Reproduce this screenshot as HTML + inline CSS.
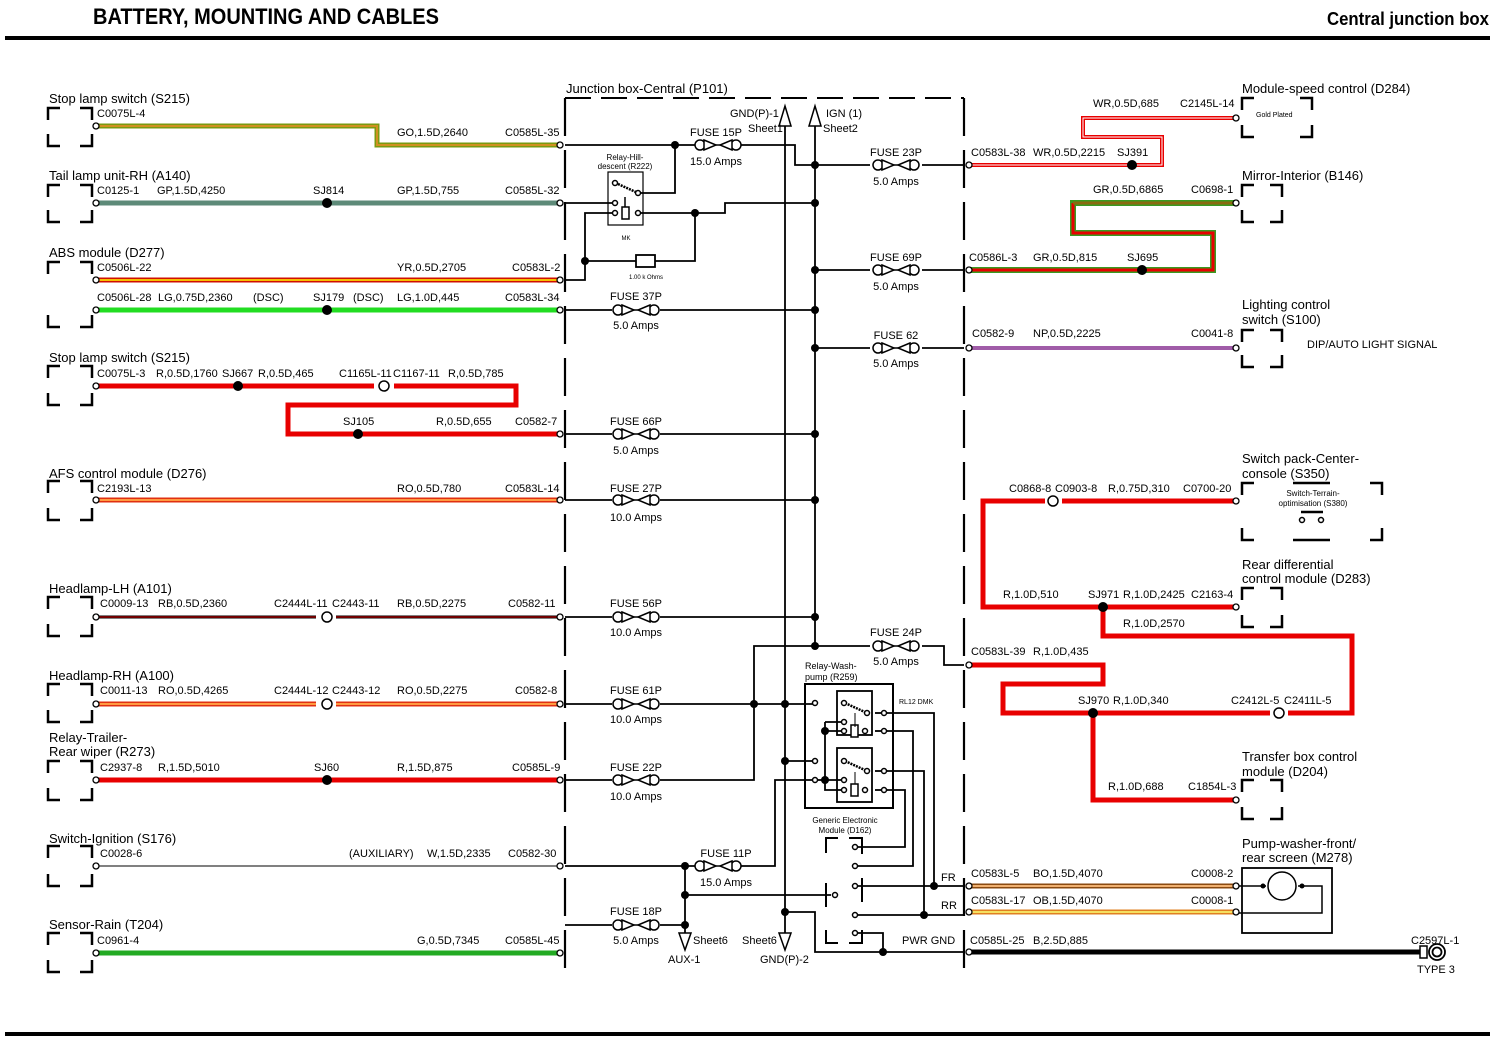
<!DOCTYPE html>
<html><head><meta charset="utf-8"><style>
html,body{margin:0;padding:0;background:#fff}
svg{display:block}
text{font-family:"Liberation Sans",sans-serif;font-size:11px;fill:#000}
.n{font-size:13px}
.s{font-size:7px}
</style></head><body>
<svg width="1498" height="1043" viewBox="0 0 1498 1043" xmlns="http://www.w3.org/2000/svg">
<defs>
<symbol id="fuse" viewBox="-26 -7 52 14" overflow="visible">
<line x1="-2" y1="0" x2="2" y2="0" stroke="#000" stroke-width="1.5"/>
<circle cx="-18" cy="0" r="5" fill="#fff" stroke="#000" stroke-width="1.5"/>
<circle cx="18" cy="0" r="5" fill="#fff" stroke="#000" stroke-width="1.5"/>
<polygon points="-14,-5 -2,0 -14,5" fill="#fff" stroke="#000" stroke-width="1.5"/>
<polygon points="14,-5 2,0 14,5" fill="#fff" stroke="#000" stroke-width="1.5"/>
</symbol>
</defs>

<!-- header -->
<text x="93" y="24" style="font-size:22px;font-weight:bold" textLength="346" lengthAdjust="spacingAndGlyphs">BATTERY, MOUNTING AND CABLES</text>
<text x="1327" y="25" style="font-size:18px;font-weight:bold" textLength="162" lengthAdjust="spacingAndGlyphs">Central junction box</text>
<rect x="5" y="36" width="1485" height="4" fill="#000"/>
<rect x="5" y="1032" width="1485" height="4" fill="#000"/>

<!-- connector brackets -->
<g fill="none" stroke="#000" stroke-width="2.5">
<path d="M48,120V108H60M80,108H92V120M48,134V146H60M80,146H92V134"/>
<path d="M48,197V185H60M80,185H92V197M48,210V222H60M80,222H92V210"/>
<path d="M48,274V262H60M80,262H92V274M48,315V327H60M80,327H92V315"/>
<path d="M48,378V366H60M80,366H92V378M48,393V405H60M80,405H92V393"/>
<path d="M48,493V481H60M80,481H92V493M48,508V520H60M80,520H92V508"/>
<path d="M48,609V597H60M80,597H92V609M48,624V636H60M80,636H92V624"/>
<path d="M48,696V684H60M80,684H92V696M48,710V722H60M80,722H92V710"/>
<path d="M48,773V761H60M80,761H92V773M48,788V800H60M80,800H92V788"/>
<path d="M48,858V846H60M80,846H92V858M48,874V886H60M80,886H92V874"/>
<path d="M48,945V933H60M80,933H92V945M48,960V972H60M80,972H92V960"/>
<!-- right -->
<path d="M1242,110V98H1254M1300,98H1312V110M1242,125V137H1254M1300,137H1312V125"/>
<path d="M1242,197V185H1254M1270,185H1282V197M1242,210V222H1254M1270,222H1282V210"/>
<path d="M1242,342V330H1254M1270,330H1282V342M1242,355V367H1254M1270,367H1282V355"/>
<path d="M1242,495V483H1254M1370,483H1382V495M1242,528V540H1254M1370,540H1382V528M1293,483H1330M1293,540H1330"/>
<path d="M1242,600V588H1254M1270,588H1282V600M1242,615V627H1254M1270,627H1282V615"/>
<path d="M1242,792V780H1254M1270,780H1282V792M1242,807V819H1254M1270,819H1282V807"/>
</g>
<line x1="1301" y1="512" x2="1323" y2="512" stroke="#000" stroke-width="2.5"/>
<circle cx="1302" cy="520" r="2.5" fill="#fff" stroke="#000" stroke-width="1.5"/>
<circle cx="1321" cy="520" r="2.5" fill="#fff" stroke="#000" stroke-width="1.5"/>

<!-- central box dashed -->
<g stroke="#000" stroke-width="2.2" fill="none" stroke-dasharray="38 14">
<line x1="565" y1="98" x2="565" y2="972"/>
<line x1="964" y1="98" x2="964" y2="972"/>
</g>
<line x1="565" y1="98" x2="964" y2="98" stroke="#000" stroke-width="2" stroke-dasharray="26 10"/>

<!-- left wires -->
<g fill="none" stroke-linejoin="miter">
<polyline points="95,126 377,126 377,145 560,145" stroke="#7a9a10" stroke-width="5"/>
<polyline points="95,126 377,126 377,145 560,145" stroke="#d09020" stroke-width="2"/>
<line x1="95" y1="203" x2="560" y2="203" stroke="#5d8a78" stroke-width="5"/>
<line x1="95" y1="280" x2="560" y2="280" stroke="#d01000" stroke-width="5"/>
<line x1="95" y1="280" x2="560" y2="280" stroke="#f5c000" stroke-width="2"/>
<line x1="95" y1="310" x2="560" y2="310" stroke="#22dd22" stroke-width="5"/>
<polyline points="95,386 516,386 516,405 288,405 288,434 560,434" stroke="#e80000" stroke-width="5"/>
<line x1="95" y1="500" x2="560" y2="500" stroke="#e03010" stroke-width="5"/>
<line x1="95" y1="500" x2="560" y2="500" stroke="#ff9a40" stroke-width="2"/>
<line x1="95" y1="617" x2="560" y2="617" stroke="#000" stroke-width="3"/>
<line x1="95" y1="617" x2="560" y2="617" stroke="#e00000" stroke-width="1"/>
<line x1="95" y1="704" x2="560" y2="704" stroke="#e03010" stroke-width="5"/>
<line x1="95" y1="704" x2="560" y2="704" stroke="#ff9a40" stroke-width="2"/>
<line x1="95" y1="780" x2="560" y2="780" stroke="#e80000" stroke-width="5"/>
<line x1="95" y1="866" x2="560" y2="866" stroke="#000" stroke-width="1"/>
<line x1="95" y1="953" x2="560" y2="953" stroke="#22aa22" stroke-width="5"/>
</g>
<!-- inline connectors -->
<g fill="#fff" stroke="#000" stroke-width="1.5">
<rect x="374" y="381" width="20" height="10" stroke="none"/>
<circle cx="384" cy="386" r="5"/>
<rect x="316" y="612" width="20" height="10" stroke="none"/>
<circle cx="327" cy="617" r="5"/>
<rect x="316" y="699" width="20" height="10" stroke="none"/>
<circle cx="327" cy="704" r="5"/>
<rect x="1043" y="495" width="20" height="12" stroke="none"/>
<circle cx="1053" cy="501" r="5"/>
<rect x="1269" y="707" width="20" height="12" stroke="none"/>
<circle cx="1279" cy="713" r="5"/>
</g>

<!-- right wires -->
<g fill="none">
<polyline points="968,165 1162,165 1162,137 1083,137 1083,118 1235,118" stroke="#e80000" stroke-width="4"/>
<polyline points="968,165 1162,165 1162,137 1083,137 1083,118 1235,118" stroke="#fff" stroke-width="1"/>
<polyline points="968,270 1213,270 1213,233 1073,233 1073,203 1235,203" stroke="#3a9a20" stroke-width="6"/>
<polyline points="968,270 1213,270 1213,233 1073,233 1073,203" stroke="#e80000" stroke-width="3"/>
<line x1="1073" y1="203" x2="1235" y2="203" stroke="#8a6a10" stroke-width="3"/>
<line x1="968" y1="348" x2="1235" y2="348" stroke="#a05ca8" stroke-width="4"/>
<polyline points="1045,501 983,501 983,607 1235,607" stroke="#e80000" stroke-width="5"/>
<line x1="1062" y1="501" x2="1235" y2="501" stroke="#e80000" stroke-width="5"/>
<polyline points="1103,607 1103,636 1352,636 1352,713 1288,713" stroke="#e80000" stroke-width="5"/>
<polyline points="968,665 1103,665 1103,684 1003,684 1003,713 1270,713" stroke="#e80000" stroke-width="5"/>
<polyline points="1093,713 1093,800 1235,800" stroke="#e80000" stroke-width="5"/>
<line x1="968" y1="886" x2="1235" y2="886" stroke="#8a4a10" stroke-width="5"/>
<line x1="968" y1="886" x2="1235" y2="886" stroke="#f0b070" stroke-width="2"/>
<line x1="968" y1="912" x2="1235" y2="912" stroke="#e08020" stroke-width="5"/>
<line x1="968" y1="912" x2="1235" y2="912" stroke="#f5e060" stroke-width="2"/>
<line x1="968" y1="952" x2="1424" y2="952" stroke="#000" stroke-width="5"/>
</g>
<!-- ground symbol -->
<rect x="1420" y="946" width="7" height="12" fill="#fff" stroke="#000" stroke-width="1.5"/>
<circle cx="1437" cy="952" r="8" fill="#fff" stroke="#000" stroke-width="1.8"/>
<circle cx="1437" cy="952" r="4.5" fill="#fff" stroke="#000" stroke-width="1.8"/>

<!-- motor M278 -->
<rect x="1242" y="868" width="90" height="65" fill="none" stroke="#000" stroke-width="1.8"/>
<circle cx="1282" cy="886" r="14" fill="#fff" stroke="#000" stroke-width="1.5"/>
<polyline points="1238,886 1266,886" fill="none" stroke="#000" stroke-width="1.5"/>
<polyline points="1298,886 1322,886 1322,913 1238,913" fill="none" stroke="#000" stroke-width="1.5"/>
<circle cx="1263" cy="886" r="2.5"/><circle cx="1302" cy="886" r="2.5"/>

<!-- black internal wiring -->
<g fill="none" stroke="#000" stroke-width="1.8">
<line x1="565" y1="145" x2="696" y2="145"/>
<polyline points="740,145 795,145 795,165 870,165"/>
<line x1="922" y1="165" x2="964" y2="165"/>
<polyline points="675,145 675,193 638,193"/>
<line x1="565" y1="203" x2="612" y2="203"/>
<polyline points="565,280 585,280 585,213 612,213"/>
<polyline points="640,213 725,213 725,203 815,203"/>
<polyline points="695,213 695,261 655,261"/>
<line x1="585" y1="261" x2="636" y2="261"/>
<rect x="636" y="255" width="19" height="12"/>
<line x1="785" y1="112" x2="785" y2="935"/>
<line x1="815" y1="112" x2="815" y2="646"/>
<line x1="815" y1="270" x2="870" y2="270"/><line x1="922" y1="270" x2="964" y2="270"/>
<line x1="815" y1="348" x2="870" y2="348"/><line x1="922" y1="348" x2="964" y2="348"/>
<line x1="565" y1="310" x2="612" y2="310"/><line x1="660" y1="310" x2="815" y2="310"/>
<line x1="565" y1="434" x2="612" y2="434"/><line x1="660" y1="434" x2="815" y2="434"/>
<line x1="565" y1="500" x2="612" y2="500"/><line x1="660" y1="500" x2="815" y2="500"/>
<line x1="565" y1="617" x2="612" y2="617"/><line x1="660" y1="617" x2="815" y2="617"/>
<line x1="565" y1="704" x2="612" y2="704"/><line x1="660" y1="704" x2="817" y2="704"/>
<line x1="565" y1="780" x2="612" y2="780"/><polyline points="660,780 754,780 754,646 870,646"/>
<polyline points="922,646 944,646 944,665 964,665"/>
<line x1="785" y1="761" x2="817" y2="761"/>
<line x1="565" y1="866" x2="696" y2="866"/>
<polyline points="740,866 775,866 775,780 817,780"/>
<polyline points="565,925 612,925"/><line x1="660" y1="925" x2="685" y2="925"/>
<line x1="685" y1="866" x2="685" y2="935"/>
<line x1="685" y1="895" x2="831" y2="895"/>
<polyline points="785,912 815,912 815,952 964,952"/>
<polyline points="858,933 883,933 883,952"/>
<line x1="858" y1="915" x2="964" y2="915"/>
<line x1="858" y1="886" x2="964" y2="886"/>
<polyline points="888,713 934,713 934,886"/>
<polyline points="888,731 913,731 913,866 858,866"/>
<polyline points="888,771 924,771 924,915"/>
<polyline points="888,790 905,790 905,847 858,847"/>
<rect x="608" y="172" width="35" height="53" stroke-width="1.2"/>
<rect x="805" y="684" width="88" height="124" stroke-width="2"/>
<rect x="837" y="691" width="35" height="44" stroke-width="1.8"/>
<rect x="837" y="748" width="35" height="54" stroke-width="1.8"/>
<polyline points="825,722 825,790 845,790"/>
<line x1="825" y1="731" x2="845" y2="731"/>
<line x1="817" y1="780" x2="825" y2="780"/>
<line x1="825" y1="722" x2="845" y2="722"/>
<line x1="825" y1="780" x2="845" y2="780"/>
<line x1="875" y1="713" x2="888" y2="713"/><line x1="875" y1="731" x2="888" y2="731"/>
<line x1="875" y1="771" x2="888" y2="771"/><line x1="875" y1="790" x2="888" y2="790"/>
<path d="M826,853V838H838M849,838H862V852M826,930V943H838M849,943H862V930" stroke-width="2"/>
<line x1="826" y1="883" x2="826" y2="907" stroke-width="2"/>
<line x1="862" y1="878" x2="862" y2="902" stroke-width="2"/>
<line x1="862" y1="838" x2="862" y2="854" stroke-width="2"/>
</g>
<!-- relay internals -->
<g stroke="#000" stroke-width="1.5" fill="#fff">
<line x1="618" y1="184" x2="638" y2="193" stroke-width="2.5" stroke-dasharray="2 1"/>
<circle cx="615" cy="183" r="2.5"/><circle cx="638" cy="193" r="2.5"/>
<circle cx="615" cy="203" r="2.5"/><circle cx="615" cy="213" r="2.5"/><circle cx="638" cy="213" r="2.5"/>
<rect x="622" y="207" width="7" height="12"/>
<line x1="625" y1="197" x2="625" y2="207"/>
<line x1="845" y1="703" x2="867" y2="713" stroke-width="2.5" stroke-dasharray="2 1"/>
<line x1="845" y1="761" x2="867" y2="771" stroke-width="2.5" stroke-dasharray="2 1"/>
<circle cx="815" cy="703" r="2.5"/><circle cx="815" cy="780" r="2.5"/><circle cx="815" cy="761" r="2.5"/>
<circle cx="844" cy="703" r="2.5"/><circle cx="867" cy="713" r="2.5"/><circle cx="884" cy="713" r="2.5"/>
<circle cx="844" cy="722" r="2.5"/><circle cx="844" cy="731" r="2.5"/><circle cx="865" cy="731" r="2.5"/><circle cx="884" cy="731" r="2.5"/>
<rect x="851" y="725" width="7" height="12"/>
<circle cx="844" cy="761" r="2.5"/><circle cx="867" cy="771" r="2.5"/><circle cx="884" cy="771" r="2.5"/>
<circle cx="844" cy="780" r="2.5"/><circle cx="844" cy="790" r="2.5"/><circle cx="865" cy="790" r="2.5"/><circle cx="884" cy="790" r="2.5"/>
<rect x="851" y="784" width="7" height="12"/>
<circle cx="855" cy="847" r="2.5"/><circle cx="855" cy="866" r="2.5"/><circle cx="855" cy="886" r="2.5"/>
<circle cx="835" cy="895" r="2.5"/><circle cx="855" cy="915" r="2.5"/><circle cx="855" cy="933" r="2.5"/>
</g>
<line x1="855" y1="713" x2="855" y2="727" stroke="#000"/>
<line x1="855" y1="772" x2="855" y2="784" stroke="#000"/>

<!-- bus arrows -->
<g fill="#fff" stroke="#000" stroke-width="1.5">
<polygon points="785,106 779,126 791,126"/>
<polygon points="815,106 809,126 821,126"/>
<polygon points="785,950 779,933 791,933"/>
<polygon points="685,950 679,933 691,933"/>
</g>

<!-- fuses -->
<use href="#fuse" x="610" y="303" width="52" height="14"/>
<use href="#fuse" x="692" y="138" width="52" height="14"/>
<use href="#fuse" x="870" y="158" width="52" height="14"/>
<use href="#fuse" x="870" y="263" width="52" height="14"/>
<use href="#fuse" x="870" y="341" width="52" height="14"/>
<use href="#fuse" x="870" y="639" width="52" height="14"/>
<use href="#fuse" x="610" y="427" width="52" height="14"/>
<use href="#fuse" x="610" y="493" width="52" height="14"/>
<use href="#fuse" x="610" y="610" width="52" height="14"/>
<use href="#fuse" x="610" y="697" width="52" height="14"/>
<use href="#fuse" x="610" y="773" width="52" height="14"/>
<use href="#fuse" x="692" y="859" width="52" height="14"/>
<use href="#fuse" x="610" y="918" width="52" height="14"/>

<!-- dots -->
<g fill="#000">
<circle cx="327" cy="203" r="5"/><circle cx="327" cy="310" r="5"/><circle cx="238" cy="386" r="5"/>
<circle cx="358" cy="434" r="5"/><circle cx="327" cy="780" r="5"/>
<circle cx="675" cy="145" r="4"/><circle cx="695" cy="213" r="4"/><circle cx="585" cy="261" r="4"/>
<circle cx="815" cy="165" r="4"/><circle cx="815" cy="203" r="4"/><circle cx="815" cy="270" r="4"/>
<circle cx="815" cy="348" r="4"/><circle cx="815" cy="310" r="4"/><circle cx="815" cy="434" r="4"/>
<circle cx="815" cy="500" r="4"/><circle cx="815" cy="617" r="4"/><circle cx="815" cy="646" r="4"/>
<circle cx="754" cy="704" r="4"/><circle cx="785" cy="704" r="4"/><circle cx="785" cy="761" r="4"/>
<circle cx="825" cy="731" r="4"/><circle cx="825" cy="780" r="4"/>
<circle cx="685" cy="866" r="4"/><circle cx="685" cy="895" r="4"/><circle cx="685" cy="925" r="4"/>
<circle cx="785" cy="912" r="4"/><circle cx="883" cy="952" r="4"/><circle cx="934" cy="886" r="4"/><circle cx="924" cy="915" r="4"/>
<circle cx="1132" cy="165" r="5"/><circle cx="1142" cy="270" r="5"/><circle cx="1103" cy="607" r="5"/><circle cx="1093" cy="713" r="5"/>
</g>

<!-- pins -->
<g fill="#fff" stroke="#000" stroke-width="1.3">
<circle cx="96" cy="126" r="3"/><circle cx="96" cy="203" r="3"/><circle cx="96" cy="280" r="3"/><circle cx="96" cy="310" r="3"/>
<circle cx="96" cy="386" r="3"/><circle cx="96" cy="500" r="3"/><circle cx="96" cy="617" r="3"/><circle cx="96" cy="704" r="3"/>
<circle cx="96" cy="780" r="3"/><circle cx="96" cy="866" r="3"/><circle cx="96" cy="953" r="3"/>
<circle cx="560" cy="145" r="3"/><circle cx="560" cy="203" r="3"/><circle cx="560" cy="280" r="3"/><circle cx="560" cy="310" r="3"/>
<circle cx="560" cy="434" r="3"/><circle cx="560" cy="500" r="3"/><circle cx="560" cy="617" r="3"/><circle cx="560" cy="704" r="3"/>
<circle cx="560" cy="780" r="3"/><circle cx="560" cy="866" r="3"/><circle cx="560" cy="953" r="3"/>
<circle cx="969" cy="165" r="3"/><circle cx="969" cy="270" r="3"/><circle cx="969" cy="348" r="3"/><circle cx="969" cy="665" r="3"/>
<circle cx="969" cy="886" r="3"/><circle cx="969" cy="912" r="3"/><circle cx="969" cy="952" r="3"/>
<circle cx="1236" cy="118" r="3"/><circle cx="1236" cy="203" r="3"/><circle cx="1236" cy="348" r="3"/><circle cx="1236" cy="501" r="3"/>
<circle cx="1236" cy="607" r="3"/><circle cx="1236" cy="800" r="3"/><circle cx="1236" cy="886" r="3"/><circle cx="1236" cy="912" r="3"/>
</g>

<!-- component names -->
<text class="n" x="49" y="103">Stop lamp switch (S215)</text>
<text class="n" x="49" y="180">Tail lamp unit-RH (A140)</text>
<text class="n" x="49" y="257">ABS module (D277)</text>
<text class="n" x="49" y="362">Stop lamp switch (S215)</text>
<text class="n" x="49" y="478">AFS control module (D276)</text>
<text class="n" x="49" y="593">Headlamp-LH (A101)</text>
<text class="n" x="49" y="680">Headlamp-RH (A100)</text>
<text class="n" x="49" y="742">Relay-Trailer-</text>
<text class="n" x="49" y="756">Rear wiper (R273)</text>
<text class="n" x="49" y="843">Switch-Ignition (S176)</text>
<text class="n" x="49" y="929">Sensor-Rain (T204)</text>
<text class="n" x="566" y="93">Junction box-Central (P101)</text>
<text class="n" x="1242" y="93">Module-speed control (D284)</text>
<text class="n" x="1242" y="180">Mirror-Interior (B146)</text>
<text class="n" x="1242" y="309">Lighting control</text>
<text class="n" x="1242" y="324">switch (S100)</text>
<text class="n" x="1242" y="463">Switch pack-Center-</text>
<text class="n" x="1242" y="478">console (S350)</text>
<text class="n" x="1242" y="569">Rear differential</text>
<text class="n" x="1242" y="583">control module (D283)</text>
<text class="n" x="1242" y="761">Transfer box control</text>
<text class="n" x="1242" y="776">module (D204)</text>
<text class="n" x="1242" y="848">Pump-washer-front/</text>
<text class="n" x="1242" y="862">rear screen (M278)</text>

<!-- wire labels left -->
<text x="97" y="117">C0075L-4</text>
<text x="397" y="136">GO,1.5D,2640</text><text x="505" y="136">C0585L-35</text>
<text x="97" y="194">C0125-1</text><text x="157" y="194">GP,1.5D,4250</text><text x="313" y="194">SJ814</text>
<text x="397" y="194">GP,1.5D,755</text><text x="505" y="194">C0585L-32</text>
<text x="97" y="271">C0506L-22</text><text x="397" y="271">YR,0.5D,2705</text><text x="512" y="271">C0583L-2</text>
<text x="97" y="301">C0506L-28</text><text x="158" y="301">LG,0.75D,2360</text><text x="253" y="301">(DSC)</text>
<text x="313" y="301">SJ179</text><text x="353" y="301">(DSC)</text><text x="397" y="301">LG,1.0D,445</text><text x="505" y="301">C0583L-34</text>
<text x="97" y="377">C0075L-3</text><text x="156" y="377">R,0.5D,1760</text><text x="222" y="377">SJ667</text>
<text x="258" y="377">R,0.5D,465</text><text x="339" y="377">C1165L-11</text><text x="393" y="377">C1167-11</text><text x="448" y="377">R,0.5D,785</text>
<text x="343" y="425">SJ105</text><text x="436" y="425">R,0.5D,655</text><text x="515" y="425">C0582-7</text>
<text x="97" y="492">C2193L-13</text><text x="397" y="492">RO,0.5D,780</text><text x="505" y="492">C0583L-14</text>
<text x="100" y="607">C0009-13</text><text x="158" y="607">RB,0.5D,2360</text><text x="274" y="607">C2444L-11</text>
<text x="332" y="607">C2443-11</text><text x="397" y="607">RB,0.5D,2275</text><text x="508" y="607">C0582-11</text>
<text x="100" y="694">C0011-13</text><text x="158" y="694">RO,0.5D,4265</text><text x="274" y="694">C2444L-12</text>
<text x="332" y="694">C2443-12</text><text x="397" y="694">RO,0.5D,2275</text><text x="515" y="694">C0582-8</text>
<text x="100" y="771">C2937-8</text><text x="158" y="771">R,1.5D,5010</text><text x="314" y="771">SJ60</text>
<text x="397" y="771">R,1.5D,875</text><text x="512" y="771">C0585L-9</text>
<text x="100" y="857">C0028-6</text><text x="349" y="857">(AUXILIARY)</text><text x="427" y="857">W,1.5D,2335</text><text x="508" y="857">C0582-30</text>
<text x="97" y="944">C0961-4</text><text x="417" y="944">G,0.5D,7345</text><text x="505" y="944">C0585L-45</text>

<!-- fuse labels -->
<text x="716" y="136" text-anchor="middle">FUSE 15P</text><text x="716" y="165" text-anchor="middle">15.0 Amps</text>
<text x="896" y="156" text-anchor="middle">FUSE 23P</text><text x="896" y="185" text-anchor="middle">5.0 Amps</text>
<text x="896" y="261" text-anchor="middle">FUSE 69P</text><text x="896" y="290" text-anchor="middle">5.0 Amps</text>
<text x="896" y="339" text-anchor="middle">FUSE 62</text><text x="896" y="367" text-anchor="middle">5.0 Amps</text>
<text x="896" y="636" text-anchor="middle">FUSE 24P</text><text x="896" y="665" text-anchor="middle">5.0 Amps</text>
<text x="636" y="300" text-anchor="middle">FUSE 37P</text><text x="636" y="329" text-anchor="middle">5.0 Amps</text>
<text x="636" y="425" text-anchor="middle">FUSE 66P</text><text x="636" y="454" text-anchor="middle">5.0 Amps</text>
<text x="636" y="492" text-anchor="middle">FUSE 27P</text><text x="636" y="521" text-anchor="middle">10.0 Amps</text>
<text x="636" y="607" text-anchor="middle">FUSE 56P</text><text x="636" y="636" text-anchor="middle">10.0 Amps</text>
<text x="636" y="694" text-anchor="middle">FUSE 61P</text><text x="636" y="723" text-anchor="middle">10.0 Amps</text>
<text x="636" y="771" text-anchor="middle">FUSE 22P</text><text x="636" y="800" text-anchor="middle">10.0 Amps</text>
<text x="726" y="857" text-anchor="middle">FUSE 11P</text><text x="726" y="886" text-anchor="middle">15.0 Amps</text>
<text x="636" y="915" text-anchor="middle">FUSE 18P</text><text x="636" y="944" text-anchor="middle">5.0 Amps</text>

<!-- misc labels -->
<text x="730" y="117">GND(P)-1</text><text x="748" y="132">Sheet1</text>
<text x="826" y="117">IGN (1)</text><text x="823" y="132">Sheet2</text>
<text x="625" y="160" style="font-size:8px" text-anchor="middle">Relay-Hill-</text>
<text x="625" y="169" style="font-size:8px" text-anchor="middle">descent (R222)</text>
<text x="626" y="240" style="font-size:6px" text-anchor="middle">MK</text>
<text x="646" y="279" style="font-size:6px" text-anchor="middle">1.00 k Ohms</text>
<text x="805" y="669" style="font-size:9px">Relay-Wash-</text>
<text x="805" y="680" style="font-size:9px">pump (R259)</text>
<text x="899" y="704" style="font-size:7px">RL12 DMK</text>
<text x="845" y="823" style="font-size:8px" text-anchor="middle">Generic Electronic</text>
<text x="845" y="833" style="font-size:8px" text-anchor="middle">Module (D162)</text>
<text x="693" y="944">Sheet6</text><text x="668" y="963">AUX-1</text>
<text x="742" y="944">Sheet6</text><text x="760" y="963">GND(P)-2</text>
<text x="941" y="881">FR</text><text x="941" y="909">RR</text><text x="902" y="944">PWR GND</text>

<!-- right labels -->
<text x="1093" y="107">WR,0.5D,685</text><text x="1180" y="107">C2145L-14</text>
<text x="1256" y="117" style="font-size:7px">Gold Plated</text>
<text x="971" y="156">C0583L-38</text><text x="1033" y="156">WR,0.5D,2215</text><text x="1117" y="156">SJ391</text>
<text x="1093" y="193">GR,0.5D,6865</text><text x="1191" y="193">C0698-1</text>
<text x="969" y="261">C0586L-3</text><text x="1033" y="261">GR,0.5D,815</text><text x="1127" y="261">SJ695</text>
<text x="972" y="337">C0582-9</text><text x="1033" y="337">NP,0.5D,2225</text><text x="1191" y="337">C0041-8</text>
<text x="1307" y="348">DIP/AUTO LIGHT SIGNAL</text>
<text x="1009" y="492">C0868-8</text><text x="1055" y="492">C0903-8</text><text x="1108" y="492">R,0.75D,310</text><text x="1183" y="492">C0700-20</text>
<text x="1313" y="496" style="font-size:8px" text-anchor="middle">Switch-Terrain-</text>
<text x="1313" y="506" style="font-size:8px" text-anchor="middle">optimisation (S380)</text>
<text x="1003" y="598">R,1.0D,510</text><text x="1088" y="598">SJ971</text><text x="1123" y="598">R,1.0D,2425</text><text x="1191" y="598">C2163-4</text>
<text x="1123" y="627">R,1.0D,2570</text>
<text x="971" y="655">C0583L-39</text><text x="1033" y="655">R,1.0D,435</text>
<text x="1078" y="704">SJ970</text><text x="1113" y="704">R,1.0D,340</text><text x="1231" y="704">C2412L-5</text><text x="1284" y="704">C2411L-5</text>
<text x="1108" y="790">R,1.0D,688</text><text x="1188" y="790">C1854L-3</text>
<text x="971" y="877">C0583L-5</text><text x="1033" y="877">BO,1.5D,4070</text><text x="1191" y="877">C0008-2</text>
<text x="971" y="904">C0583L-17</text><text x="1033" y="904">OB,1.5D,4070</text><text x="1191" y="904">C0008-1</text>
<text x="970" y="944">C0585L-25</text><text x="1033" y="944">B,2.5D,885</text>
<text x="1411" y="944">C2597L-1</text><text x="1417" y="973">TYPE 3</text>
</svg>
</body></html>
